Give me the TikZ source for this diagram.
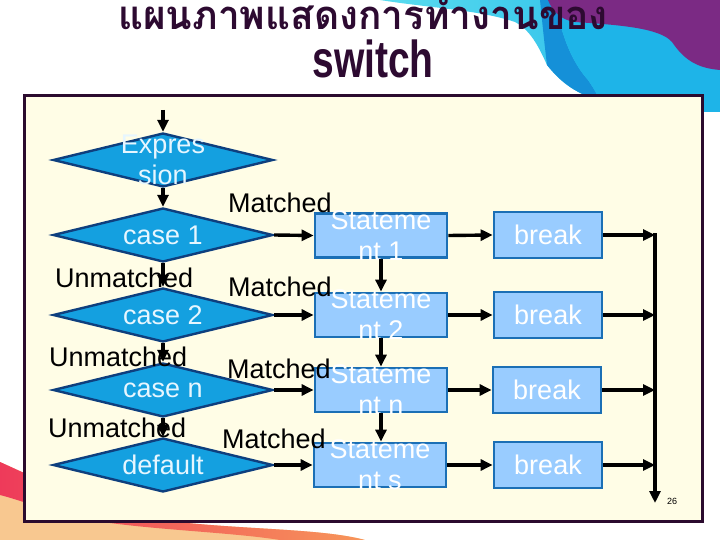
\documentclass[tikz,border=0pt]{standalone}
\usepackage{fontspec}
\setmainfont{Liberation Sans}
\newfontfamily\thaifont[Script=Thai]{Loma}
\usetikzlibrary{arrows.meta,shapes.geometric}
\definecolor{framec}{HTML}{2B0B2E}
\definecolor{framefill}{HTML}{FFFDE6}
\definecolor{dfill}{HTML}{14A0E0}
\definecolor{dline}{HTML}{0E3F7E}
\definecolor{dtextc}{HTML}{E6F6FF}
\definecolor{sfill}{HTML}{99CCFF}
\definecolor{sline}{HTML}{1B6FB5}
\definecolor{titlec}{HTML}{2D0A31}
\definecolor{purp}{HTML}{7B2A84}
\definecolor{cyanb}{HTML}{1EB4E8}
\definecolor{cyanl}{HTML}{5ADCEF}
\definecolor{cyand}{HTML}{1590D8}
\definecolor{peach}{HTML}{F8C890}
\definecolor{redp}{HTML}{EE3A5A}
\definecolor{orng}{HTML}{F7965A}
\tikzset{
  dia/.style={shape=diamond, draw=dline, fill=dfill, line width=2.4pt,
    minimum width=220, minimum height=54, inner sep=0pt},
  stmt/.style={shape=rectangle, draw=sline, fill=sfill, line width=2.8pt,
    minimum width=132, minimum height=44, inner sep=0pt},
  brk/.style={shape=rectangle, draw=sline, fill=sfill, line width=2.8pt,
    minimum width=108, minimum height=46, inner sep=0pt,
    text=white, font=\fontsize{27}{31}\selectfont},
  dtext/.style={text=dtextc, font=\fontsize{27}{31}\selectfont, align=center, inner sep=0pt},
  stext/.style={text=white, font=\fontsize{27}{31}\selectfont, align=center, inner sep=0pt},
  lbl/.style={font=\fontsize{27}{31}\selectfont, inner sep=0pt, anchor=base west},
  arr/.style={line width=3.4pt, -{Triangle[length=12pt,width=11pt]}}
}
\begin{document}
\begin{tikzpicture}[x=1pt,y=-1pt]
\useasboundingbox (0,0) rectangle (720,540);
\fill[white] (0,0) rectangle (720,540);
% decorations top right
\shade[left color=cyanl, right color=cyanb] (380,0) -- (720,0) -- (720,112) -- (600,112) -- (587,96) .. controls (567,88) and (555,75) .. (547,65) .. controls (538,45) and (530,30) .. (515,22) .. controls (480,10) and (430,8) .. (380,0) -- cycle;
\fill[cyand] (540,0) -- (555,0) .. controls (560,30) and (570,60) .. (588,80) .. controls (595,90) and (600,100) .. (606,112) -- (600,112) -- (587,96) .. controls (567,88) and (555,75) .. (547,65) .. controls (544,40) and (542,20) .. (540,0) -- cycle;
\fill[cyanb] (555,0) .. controls (560,30) and (570,60) .. (588,80) .. controls (595,90) and (600,100) .. (606,112) -- (720,112) -- (720,0) -- cycle;
\fill[purp] (548,0) -- (720,0) -- (720,70) .. controls (695,68) and (683,58) .. (672,42) .. controls (660,28) and (620,25) .. (575,22) .. controls (560,20) and (552,10) .. (548,0) -- cycle;
% decorations bottom left
\fill[peach] (0,462) .. controls (40,480) and (90,505) .. (160,520) .. controls (240,530) and (320,528) .. (365,540) -- (0,540) -- cycle;
\shade[left color=redp, right color=orng] (0,462) .. controls (40,480) and (90,505) .. (160,520) .. controls (240,530) and (320,528) .. (365,540) -- (280,540) .. controls (230,532) and (150,530) .. (90,520) .. controls (50,512) and (20,500) .. (0,495) -- cycle;
% title
\node[text=titlec, inner sep=0pt, anchor=base] (t1) at (363,30) {\scalebox{0.97}[1]{\thaifont\bfseries\fontsize{40}{44}\selectfont แผนภาพแสดงการทำงานของ}};
\node[text=titlec, inner sep=0pt, anchor=base] (t2) at (373,78) {\scalebox{0.75}[1]{\bfseries\fontsize{52}{56}\selectfont switch}};
% frame
\node[draw=framec, fill=framefill, line width=3pt, minimum width=678, minimum height=425, inner sep=0pt] (frame) at (363,308.5) {};
% diamonds
\node[dia, label={[dtext]center:Expres\\sion}] (d0) at (163,160) {};
\node[dia, label={[dtext]center:case 1}] (d1) at (163,235) {};
\node[dia, label={[dtext]center:case 2}] (d2) at (163,315) {};
\node[dia, label={[dtext]center:case n}] (d3) at (163,390) {};
\node[dia, label={[dtext]center:default}] (d4) at (163,465) {};
% statements
\node[stmt, label={[stext]center:Stateme\\nt 1}] (s1) at (381,235.5) {};
\node[stmt, label={[stext]center:Stateme\\nt 2}] (s2) at (381,315) {};
\node[stmt, label={[stext]center:Stateme\\nt n}] (s3) at (381,390) {};
\node[stmt, label={[stext]center:Stateme\\nt s}] (s4) at (380,465) {};
% breaks
\node[brk] (b1) at (548,235) {break};
\node[brk] (b2) at (548,315) {break};
\node[brk] (b3) at (547,390) {break};
\node[brk] (b4) at (548,465) {break};
% labels
\node[lbl] (m1) at (228,212) {Matched};
\node[lbl] (m2) at (228,296) {Matched};
\node[lbl] (m3) at (227,378) {Matched};
\node[lbl] (m4) at (222,448) {Matched};
\node[lbl] (u1) at (55,287) {Unmatched};
\node[lbl] (u2) at (49,366) {Unmatched};
\node[lbl] (u3) at (48,437) {Unmatched};
\node[font=\fontsize{9}{10}\selectfont, inner sep=0pt] (pg) at (672,501) {26};
% connectors
\coordinate (start) at (163,110);
\draw[arr] (start) -- (d0.north);
\draw[arr] (d0.south) -- (d1.north);
\draw[arr] (d1.south) -- (d2.north);
\draw[arr] (d2.south) -- (d3.north);
\draw[arr] (d3.south) -- (d4.north);
\draw[arr] (d1.east) -- (s1.west);
\draw[arr] (d2.east) -- (s2.west);
\draw[arr] (d3.east) -- (s3.west);
\draw[arr] (d4.east) -- (s4.west);
\draw[arr] (s1.south) -- (s2.north);
\draw[arr] (s2.south) -- (s3.north);
\draw[arr] (s3.south) -- (s4.north -| s3.south);
\draw[arr] (s1.east) -- (b1.west);
\draw[arr] (s2.east) -- (b2.west);
\draw[arr] (s3.east) -- (b3.west);
\draw[arr] (s4.east) -- (b4.west);
\coordinate (rt) at (655,233.3);
\coordinate (rb) at (655,503);
\draw[arr] (rt) -- (rb);
\draw[arr] (b1.east) -- (b1.east -| rt);
\draw[arr] (b2.east) -- (b2.east -| rt);
\draw[arr] (b3.east) -- (b3.east -| rt);
\draw[arr] (b4.east) -- (b4.east -| rt);
\end{tikzpicture}
\end{document}
